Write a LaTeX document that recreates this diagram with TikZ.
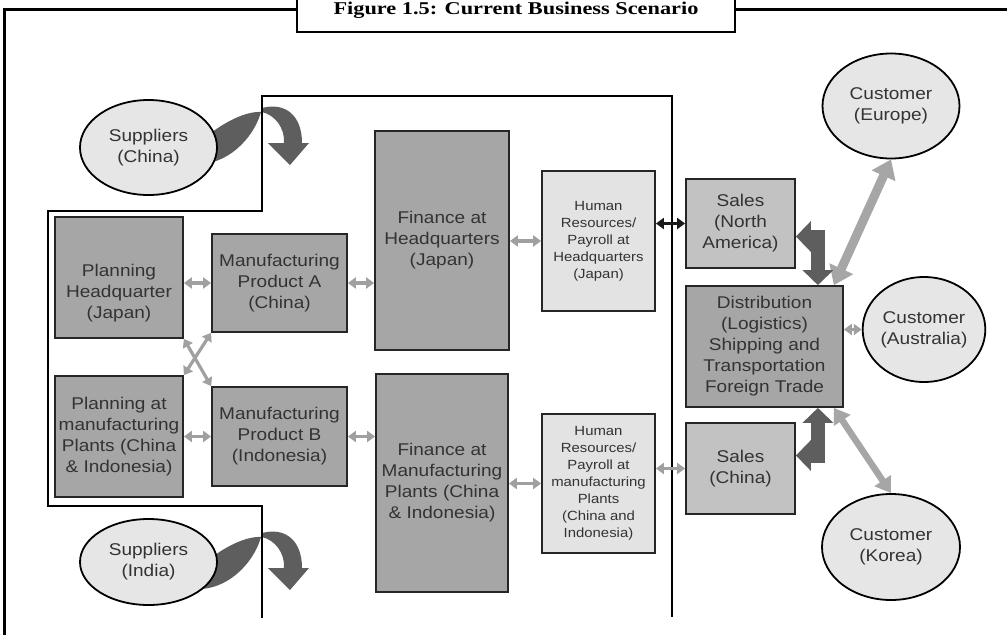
\documentclass[tikz,border=0pt]{standalone}
\usepackage{fontspec}
\setmainfont{Liberation Sans}[FakeStretch=1.12]
\newfontfamily\titlefont{Liberation Serif}[FakeStretch=1.24]
\usepackage{xcolor}
\usetikzlibrary{shapes.geometric}
\usetikzlibrary{arrows.meta}

\definecolor{darkbox}{HTML}{A6A6A6}
\definecolor{midbox}{HTML}{C2C2C2}
\definecolor{palebox}{HTML}{E3E3E3}
\definecolor{ovalgray}{HTML}{E6E6E6}
\definecolor{inkgray}{HTML}{333333}
\definecolor{linkgray}{HTML}{A0A0A0}
\definecolor{curlgray}{HTML}{5E5E5E}
\definecolor{flowgray}{HTML}{A6A6A6}

\begin{document}
\begin{tikzpicture}[x=1pt, y=-1pt,
    box/.style={rectangle, draw=black!85, line width=1.8pt, fill=darkbox, text=inkgray, align=center, inner sep=0pt, font=\fontsize{17}{21}\selectfont},
    hrbox/.style={box, fill=palebox, font=\fontsize{13.3}{17}\selectfont},
    salesbox/.style={box, fill=midbox},
    oval/.style={ellipse, draw=black, line width=1.8pt, fill=ovalgray, text=inkgray, align=center, inner sep=0pt, font=\fontsize{17}{21}\selectfont},
    link/.style={>={Triangle[length=8pt,width=11pt]}, <->, line width=3.2pt, draw=linkgray},
    darklink/.style={link, draw=black!90},
    bigpale/.style={>={Triangle[length=18pt,width=25pt]}, <->, line width=9pt, draw=flowgray},
    smallpale/.style={>={Triangle[length=15pt,width=19pt]}, <->, line width=6.5pt, draw=flowgray},
    bigdark/.style={>={Triangle[length=15pt,width=30pt]}, <->, line width=14pt, draw=curlgray}]

    \fill[white] (0,0) rectangle (1007,635);
    \useasboundingbox (0,0) rectangle (1007,635);

    \draw[line width=2.2pt] (297,9.5) -- (4.5,9.5) -- (4.5,635);
    \draw[line width=2.2pt] (735,9.5) -- (1007,9.5);
    \draw[line width=2.2pt] (297,0) -- (297,32) -- (735,32) -- (735,0);
    \node[font=\titlefont\bfseries\fontsize{18}{20}\selectfont, anchor=base] (title) at (516,14) {Figure 1.5: Current Business Scenario};

    \coordinate (chinacurl) at (262,108);
    \coordinate (indiacurl) at (262,533);
    \foreach \c in {chinacurl,indiacurl} {
        \begin{scope}[shift={(\c)}]
            \fill[curlgray] (-62,56) .. controls (-30,55) and (-5,25) .. (0,0)
                .. controls (23,-6) and (40,7) .. (40,35) -- (47,35) -- (28,57) -- (6,35) -- (22,35)
                .. controls (23,20) and (13,7) .. (0,4)
                .. controls (-15,3) and (-35,12) .. (-58,30) -- cycle;
        \end{scope}
    }

    \node[oval, minimum width=137pt, minimum height=95pt] (supchina) at (148.5,147.5) {Suppliers\\(China)};
    \node[oval, minimum width=137pt, minimum height=86pt] (supindia) at (148.5,562) {Suppliers\\(India)};

    \draw[line width=2pt] (262,618) -- (262,506) -- (48,506) -- (48,211) -- (262,211) -- (262,96) -- (672,96) -- (672,617);

    \node[box, minimum width=128pt, minimum height=121pt, text height=85pt] (planhq) at (119,277.5) {Planning\\Headquarter\\(Japan)};
    \node[box, minimum width=135pt, minimum height=98pt] (mfga) at (279.5,283) {Manufacturing\\Product A\\(China)};
    \node[box, minimum width=128pt, minimum height=121pt] (planmp) at (119,436.5) {Planning at\\manufacturing\\Plants (China\\\& Indonesia)};
    \node[box, minimum width=135pt, minimum height=99pt] (mfgb) at (279.5,436.5) {Manufacturing\\Product B\\(Indonesia)};
    \node[box, minimum width=134pt, minimum height=219pt] (finhq) at (442,240.5) {Finance at\\Headquarters\\(Japan)};
    \node[box, minimum width=132pt, minimum height=218pt] (finmp) at (442,483) {Finance at\\Manufacturing\\Plants (China\\\& Indonesia)};
    \node[hrbox, minimum width=113pt, minimum height=140pt] (hrhq) at (598.5,241) {Human\\Resources/\\Payroll at\\Headquarters\\(Japan)};
    \node[hrbox, minimum width=113pt, minimum height=139pt] (hrmp) at (598.5,483.5) {Human\\Resources/\\Payroll at\\manufacturing\\Plants\\(China and\\Indonesia)};
    \node[salesbox, minimum width=109pt, minimum height=89pt] (salesna) at (740.5,223.5) {Sales\\(North\\America)};
    \node[box, minimum width=157pt, minimum height=121pt] (dist) at (764.5,346.5) {Distribution\\(Logistics)\\Shipping and\\Transportation\\Foreign Trade};
    \node[salesbox, minimum width=109pt, minimum height=91pt] (saleschina) at (740.5,468.5) {Sales\\(China)};
    \node[oval, minimum width=137pt, minimum height=105pt] (europe) at (891,106) {Customer\\(Europe)};
    \node[oval, minimum width=104pt, minimum height=105pt] (australia) at (924,329.5) {Customer\\(Australia)};
    \node[oval, minimum width=138pt, minimum height=106pt] (korea) at (891,547) {Customer\\(Korea)};

    \draw[link] (planhq.east |- mfga.west) -- (mfga.west);
    \draw[link] (planhq.south east) -- (mfgb.north west);
    \draw[link] (planmp.north east) -- (mfga.south west);
    \draw[link] (planmp) -- (mfgb);
    \draw[link] (mfga) -- (mfga -| finhq.west);
    \draw[link] (mfgb) -- (mfgb -| finmp.west);
    \draw[link] (finhq.east |- hrhq) -- (hrhq);
    \draw[link] (finmp.east |- hrmp) -- (hrmp);
    \draw[darklink] (hrhq.east |- salesna) -- (salesna);
    \draw[link] (hrmp.east |- saleschina) -- (saleschina);
    \draw[link] (dist.east |- australia) -- (australia);

    \draw[bigpale] ([xshift=-10pt]dist.north east) -- (europe.south);
    \draw[smallpale] ([xshift=-10pt]dist.south east) -- (korea.north);
    \draw[bigdark] ([yshift=-13pt]salesna.east) -| ([xshift=-26pt]dist.north east);
    \draw[bigdark] ([yshift=13pt]saleschina.east) -| ([xshift=-26pt]dist.south east);

\end{tikzpicture}
\end{document}
